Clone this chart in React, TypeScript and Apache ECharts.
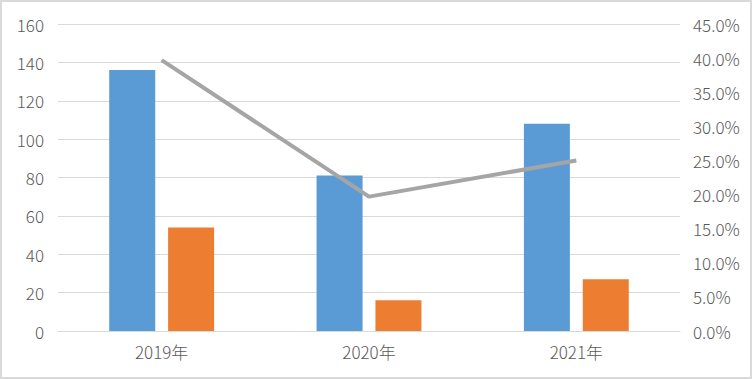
import React, { useEffect, useRef } from "react";
import * as echarts from "echarts";

const categories = ["2019年", "2020年", "2021年"];
const seriesA = [136, 81, 108];
const seriesB = [54, 16, 27];
const ratio = [0.397, 0.197, 0.25];

export default function App() {
  const ref = useRef<HTMLDivElement>(null);
  useEffect(() => {
    const chart = echarts.init(ref.current!, null, { renderer: "svg" });
    const font = '"Noto Sans CJK SC", "Noto Sans", sans-serif';
    const labelColor = "#595959";
    const labelBase = { color: labelColor, fontSize: 17, fontFamily: font, fontWeight: 300 };
    chart.setOption({
      animation: false,
      backgroundColor: "#ffffff",
      grid: { left: 58, right: 72, top: 24, bottom: 48 },
      xAxis: {
        type: "category",
        data: categories,
        axisTick: { show: false },
        axisLine: { lineStyle: { color: "#d9d9d9", width: 1 } },
        axisLabel: { ...labelBase, margin: 12 },
      },
      yAxis: [
        {
          type: "value",
          min: 0,
          max: 160,
          interval: 20,
          axisLine: { show: false },
          axisTick: { show: false },
          splitLine: { lineStyle: { color: "#d9d9d9", width: 1 } },
          axisLabel: { ...labelBase, margin: 14 },
        },
        {
          type: "value",
          min: 0,
          max: 0.45,
          interval: 0.05,
          axisLine: { show: false },
          axisTick: { show: false },
          splitLine: { show: false },
          axisLabel: {
            ...labelBase,
            margin: 13,
            formatter: (v: number) => (v * 100).toFixed(1) + "%",
          },
        },
      ],
      series: [
        {
          type: "bar",
          data: seriesA,
          barWidth: 46,
          barGap: "28%",
          itemStyle: { color: "#5b9bd5" },
        },
        {
          type: "bar",
          data: seriesB,
          barWidth: 46,
          barGap: "28%",
          itemStyle: { color: "#ed7d31" },
        },
        {
          type: "line",
          yAxisIndex: 1,
          data: ratio,
          symbol: "none",
          lineStyle: { color: "#a5a5a5", width: 4 },
          z: 5,
        },
      ],
      graphic: [
        {
          type: "rect",
          shape: { x: 1, y: 1, width: 750, height: 377 },
          style: { fill: "none", stroke: "#d9d9d9", lineWidth: 2 },
          silent: true,
        },
      ],
    });
    return () => chart.dispose();
  }, []);
  return (
    <div
      ref={ref}
      style={{ position: "fixed", left: 0, top: 0, width: 752, height: 379 }}
    />
  );
}
